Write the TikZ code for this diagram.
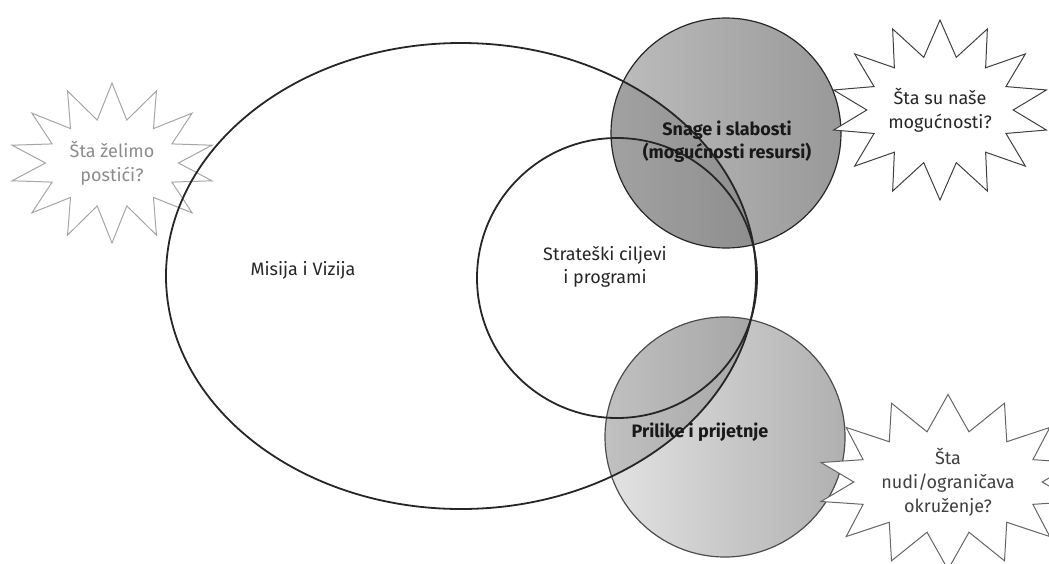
\documentclass[tikz,border=0pt]{standalone}
\usepackage{fontspec}
\setmainfont{Fira Sans}
\usetikzlibrary{shapes.symbols}
\tikzset{
  outl/.style={draw=black!85, line width=1.8pt},
  lbl/.style={align=center, font=\fontsize{18}{23}\selectfont, text=black!85},
  dlbl/.style={align=center, font=\fontsize{18}{23}\selectfont\bfseries, text=black!90},
  burst/.style={starburst, starburst points=14, starburst point height=36pt, random starburst=0,
    align=center, inner sep=0pt, font=\fontsize{18}{24}\selectfont, fill=white},
}
\begin{document}
\begin{tikzpicture}[x=1pt,y=-1pt]
\useasboundingbox (0,0) rectangle (1049,563);
% coordinates
\coordinate (ec) at (461,276);
\coordinate (mc) at (617,278);
\coordinate (tc) at (726,133);
\coordinate (bc) at (725,437);
% left starburst (under the ellipse)
\node[burst, draw=black!35, line width=1pt, minimum width=205pt, minimum height=160pt, shape border rotate=8, text=black!45] (b1) at (112,163) {Šta želimo\\postići?};
% shaded circles
\shade[shading angle=135, left color=gray!22, right color=gray!62] (bc) circle [radius=120pt];
\shade[shading angle=135, left color=gray!52, right color=gray!80] (tc) circle [radius=115pt];
% darker overlaps with the ellipse
\begin{scope}
  \clip (ec) ellipse [x radius=295pt, y radius=233pt];
  \fill[black, opacity=0.14] (tc) circle [radius=115pt];
  \fill[black, opacity=0.15] (bc) circle [radius=120pt];
\end{scope}
\draw[line width=1.2pt, black!85] (tc) circle [radius=115pt];
\draw[line width=1.2pt, black!70] (bc) circle [radius=120pt];
% outlines
\draw[outl] (ec) ellipse [x radius=295pt, y radius=233pt];
\draw[outl] (mc) circle [radius=140pt];
% labels
\node[lbl] (mis) at (303,270) {Misija i Vizija};
\node[lbl] (str) at (605,267) {Strateški ciljevi\\i programi};
\node[dlbl] (sna) at (727,142) {Snage i slabosti\\(mogućnosti resursi)};
\node[dlbl] (pri) at (700,432) {Prilike i prijetnje};
% right starbursts
\node[burst, draw=black!75, line width=1pt, minimum width=210pt, minimum height=180pt, shape border rotate=5, text=black!85] (b2) at (940,110) {Šta su naše\\mogućnosti?};
\node[burst, draw=black!60, line width=1pt, minimum width=220pt, minimum height=175pt, shape border rotate=10, text=black!75] (b3) at (948,482) {Šta\\nudi/ograničava\\okruženje?};
\end{tikzpicture}
\end{document}
